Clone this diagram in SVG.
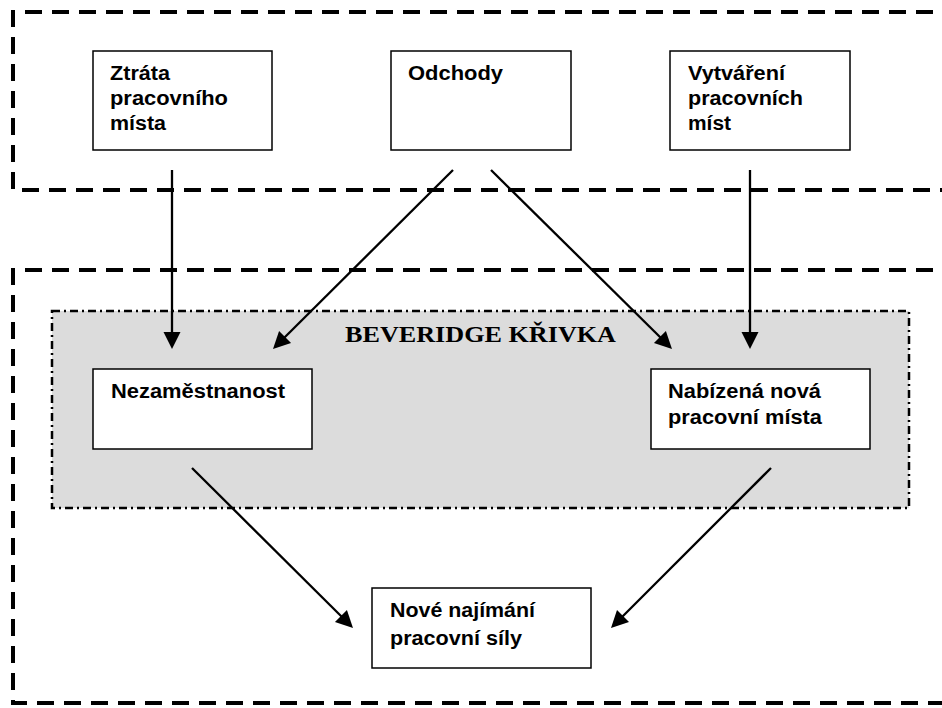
<svg xmlns="http://www.w3.org/2000/svg" width="942" height="708" viewBox="0 0 942 708">
  <defs>
    <style>
      .zone { fill: none; stroke: #000; stroke-width: 4; stroke-dasharray: 17 10; }
      .curve { fill: #dcdcdc; stroke: #000; stroke-width: 2.5; stroke-dasharray: 8 4 2 4; }
      .box { fill: #fff; stroke: #000; stroke-width: 1.5; }
      .lbl { font-family: "Liberation Sans", Arial, sans-serif; font-weight: bold; font-size: 20px; fill: #000; }
      .title { font-family: "Liberation Serif", "Times New Roman", serif; font-weight: bold; font-size: 24px; fill: #000; }
      .link { fill: none; stroke: #000; stroke-width: 2.3; }
      .tip { fill: #000; stroke: none; }
    </style>
    <!-- arrowhead pointing along +x, tip at origin -->
    <path id="head" d="M0,0 L-17,-8.5 L-17,8.5 Z"/>
  </defs>

  <!-- dashed zones (open to the right edge) -->
  <g id="zone-top">
    <path class="zone" d="M 960,12 L 13,12 L 13,190 L 960,190"/>
  </g>
  <g id="zone-bottom">
    <path class="zone" d="M 960,270 L 13,270 L 13,703 L 960,703"/>
  </g>

  <!-- Beveridge curve area -->
  <g id="beveridge">
    <rect class="curve" x="52" y="311" width="857" height="197"/>
    <text class="title" x="345" y="342" textLength="271" lengthAdjust="spacingAndGlyphs">BEVERIDGE KŘIVKA</text>
  </g>

  <!-- connectors: shaft stops short of the tip, head placed by rotation -->
  <g id="connectors">
    <line class="link" x1="172" y1="170" x2="172" y2="336"/>
    <use href="#head" class="tip" transform="translate(172,349) rotate(90)"/>

    <line class="link" x1="453" y1="170" x2="283" y2="339"/>
    <use href="#head" class="tip" transform="translate(273,349) rotate(135.2)"/>

    <line class="link" x1="491" y1="170" x2="662" y2="339"/>
    <use href="#head" class="tip" transform="translate(672,349) rotate(44.7)"/>

    <line class="link" x1="750" y1="170" x2="750" y2="336"/>
    <use href="#head" class="tip" transform="translate(750,349) rotate(90)"/>

    <line class="link" x1="192" y1="468" x2="343" y2="618"/>
    <use href="#head" class="tip" transform="translate(353,628) rotate(44.8)"/>

    <line class="link" x1="771" y1="468" x2="621" y2="618"/>
    <use href="#head" class="tip" transform="translate(611,628) rotate(135)"/>
  </g>

  <g id="node-ztrata">
    <rect class="box" x="93" y="51" width="179" height="99"/>
    <text class="lbl" x="110" y="80" textLength="60" lengthAdjust="spacingAndGlyphs">Ztráta</text>
    <text class="lbl" x="110" y="105" textLength="118" lengthAdjust="spacingAndGlyphs">pracovního</text>
    <text class="lbl" x="110" y="130" textLength="56" lengthAdjust="spacingAndGlyphs">místa</text>
  </g>

  <g id="node-odchody">
    <rect class="box" x="391" y="51" width="180" height="99"/>
    <text class="lbl" x="408" y="80" textLength="95" lengthAdjust="spacingAndGlyphs">Odchody</text>
  </g>

  <g id="node-vytvareni">
    <rect class="box" x="670" y="51" width="180" height="99"/>
    <text class="lbl" x="688" y="80" textLength="97" lengthAdjust="spacingAndGlyphs">Vytváření</text>
    <text class="lbl" x="688" y="105" textLength="115" lengthAdjust="spacingAndGlyphs">pracovních</text>
    <text class="lbl" x="688" y="130" textLength="43" lengthAdjust="spacingAndGlyphs">míst</text>
  </g>

  <g id="node-nezamestnanost">
    <rect class="box" x="93" y="369" width="219" height="80"/>
    <text class="lbl" x="111" y="398" textLength="174" lengthAdjust="spacingAndGlyphs">Nezaměstnanost</text>
  </g>

  <g id="node-nabizena">
    <rect class="box" x="651" y="369" width="219" height="80"/>
    <text class="lbl" x="668" y="398" textLength="153" lengthAdjust="spacingAndGlyphs">Nabízená nová</text>
    <text class="lbl" x="668" y="424" textLength="154" lengthAdjust="spacingAndGlyphs">pracovní místa</text>
  </g>

  <g id="node-najimani">
    <rect class="box" x="372" y="588" width="219" height="80"/>
    <text class="lbl" x="390" y="617" textLength="145" lengthAdjust="spacingAndGlyphs">Nové najímání</text>
    <text class="lbl" x="390" y="645" textLength="132" lengthAdjust="spacingAndGlyphs">pracovní síly</text>
  </g>
</svg>
